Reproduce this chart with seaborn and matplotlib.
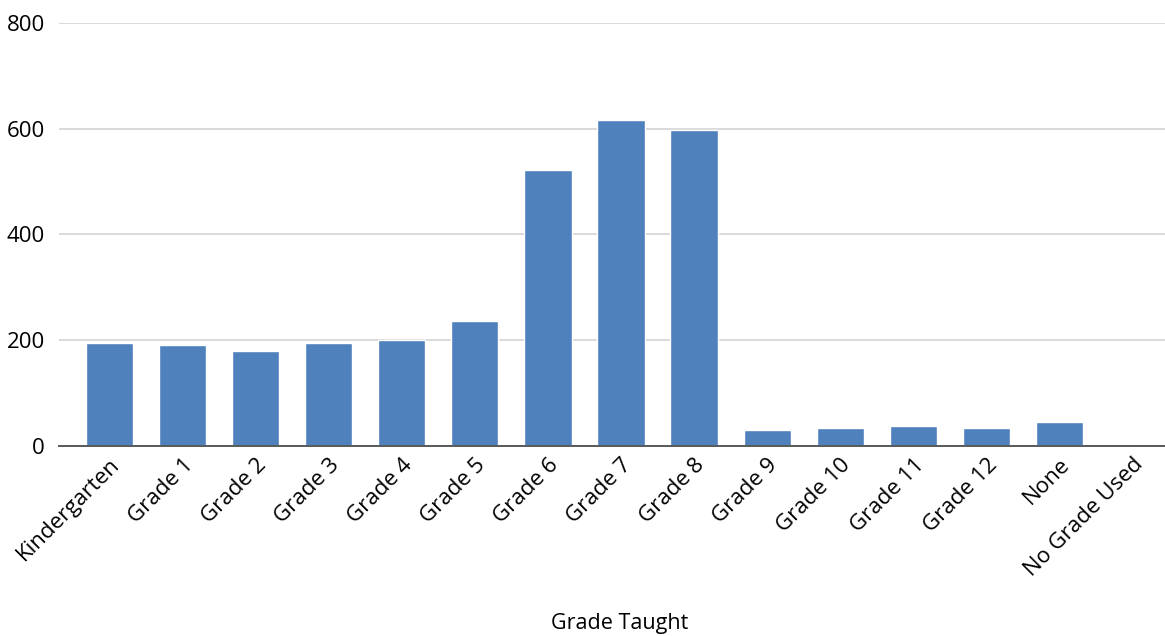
import matplotlib
matplotlib.use('Agg')

import matplotlib.pyplot as plt
import seaborn as sns
import pandas as pd

# data
grades = ['Kindergarten', 'Grade 1', 'Grade 2', 'Grade 3', 'Grade 4', 'Grade 5',
          'Grade 6', 'Grade 7', 'Grade 8', 'Grade 9', 'Grade 10', 'Grade 11',
          'Grade 12', 'None', 'No Grade Used']
counts = [195, 191, 179, 194, 201, 237, 522, 617, 598, 30, 34, 37, 33, 46, 0]
y_ticks = [0, 200, 400, 600, 800]

df = pd.DataFrame({'grade': grades, 'count': counts})

sns.set_theme(style='white')
plt.rcParams['font.family'] = ['Open Sans', 'DejaVu Sans']

fig = plt.figure(figsize=(11.65, 6.36), dpi=100)
# plot area runs slightly past the right edge, as in the cropped original
ax = fig.add_axes([0.0506, 0.299, 0.953, 0.665])

sns.barplot(data=df, x='grade', y='count', color='#4f81bd', saturation=1,
            width=0.647, ax=ax, zorder=3)

ax.set_ylim(0, 800)
ax.set_xlim(-0.69, len(grades) - 0.5)
ax.set_yticks(y_ticks)
ax.yaxis.grid(True, color='#d9d9d9', linewidth=1.4, zorder=0)
ax.set_axisbelow(True)

for side in ['top', 'right', 'left']:
    ax.spines[side].set_visible(False)
ax.spines['bottom'].set_color('#595959')
ax.spines['bottom'].set_linewidth(1.4)
ax.spines['bottom'].set_zorder(4)

ax.tick_params(axis='y', length=0, labelsize=16, pad=10, colors='#000000')
ax.tick_params(axis='x', length=0, labelsize=16, pad=6, colors='#000000')
plt.setp(ax.get_xticklabels(), rotation=45, ha='right', rotation_mode='anchor')

ax.set_ylabel('')
ax.set_xlabel('Grade Taught', fontsize=15.5, color='#000000')
ax.xaxis.set_label_coords(0.505, -0.395)

fig.savefig('out.png', dpi=100, facecolor='white')
